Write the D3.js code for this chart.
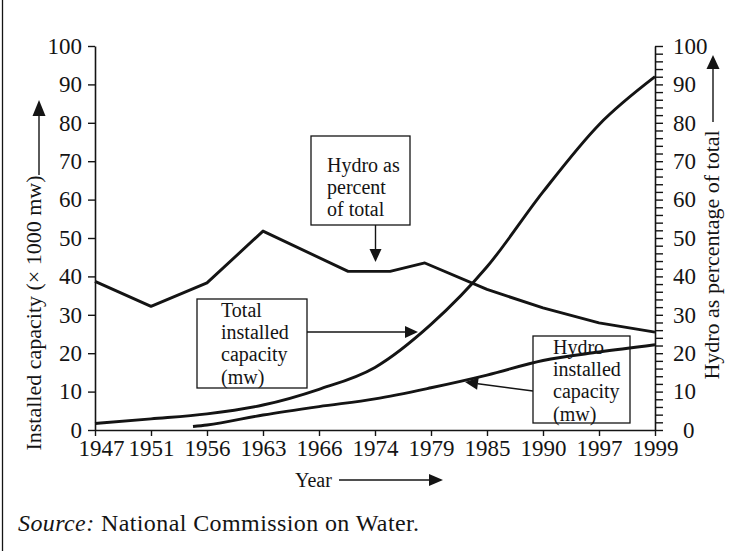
<!DOCTYPE html>
<html>
<head>
<meta charset="utf-8">
<script src="https://cdn.jsdelivr.net/npm/d3@7"></script>
<style>
  html, body { margin: 0; padding: 0; background: #fff; }
  svg text { font-family: "Liberation Serif", "DejaVu Serif", serif; fill: #141414; }
</style>
</head>
<body>
<svg id="chart" width="737" height="551"></svg>
<script>
// Year categories on the horizontal axis (evenly spaced)
const years = ["1947", "1951", "1956", "1963", "1966", "1974", "1979", "1985", "1990", "1997", "1999"];

// Total installed capacity (x 1000 MW), one value per year category
const totalCapacity = [1.7, 2.9, 4.2, 6.5, 10.6, 16.3, 27.5, 42.5, 62, 79.5, 92];

// Hydro installed capacity (x 1000 MW); the series begins part-way between 1951 and 1956
const hydroCapacityAt = [1.75, 2, 3, 4, 5, 6, 7, 8, 9, 10];
const hydroCapacity = [0.9, 1.3, 3.9, 6.1, 8.1, 11.0, 14.3, 18.1, 20.3, 22.2];

// Hydro as percentage of total; vertices sit between year categories in places
const hydroShareAt = [0, 1, 2, 3, 4.52, 5.27, 5.89, 7, 8, 9, 10];
const hydroShare = [38.7, 32.2, 38.3, 51.8, 41.3, 41.3, 43.5, 36.6, 31.8, 27.9, 25.5];

// Tick values for both vertical axes
const leftTicks = d3.range(0, 101, 10);
const rightTicks = d3.range(0, 101, 2);

const svg = d3.select("#chart");
const ink = "#141414";

const x = d3.scaleLinear().domain([0, years.length - 1]).range([95, 655]);
const y = d3.scaleLinear().domain([0, 100]).range([430, 46]);

// Outer frame edge on the left
svg.append("line").attr("x1", 2.5).attr("x2", 2.5).attr("y1", 0).attr("y2", 551)
  .attr("stroke", ink).attr("stroke-width", 1.3);

// Axes
const axisStyle = g => {
  g.selectAll("path.domain").attr("stroke", ink).attr("stroke-width", 1.6);
  g.selectAll(".tick line").attr("stroke", ink).attr("stroke-width", 1.4);
  g.selectAll("text").attr("font-family", "Liberation Serif").attr("font-size", 23).attr("fill", ink);
};

const gLeft = svg.append("g").attr("transform", `translate(${x(0)},0)`)
  .call(d3.axisLeft(y).tickValues(leftTicks).tickSize(7).tickSizeOuter(0).tickPadding(6).tickFormat(d3.format("d")))
  .call(axisStyle);

const gRight = svg.append("g").attr("transform", `translate(${x(years.length - 1)},0)`)
  .call(d3.axisRight(y).tickValues(rightTicks).tickSize(8).tickSizeOuter(0).tickPadding(10)
    .tickFormat(d => d % 10 === 0 ? String(d) : ""))
  .call(axisStyle);
gRight.selectAll(".tick text").filter(d => d === 0).attr("dx", 10);

const gBottom = svg.append("g").attr("transform", `translate(0,${y(0)})`)
  .call(d3.axisBottom(x).tickValues(d3.range(years.length)).tickSize(6).tickSizeOuter(0)
    .tickFormat(i => years[i]))
  .call(axisStyle);
gBottom.selectAll(".tick text").attr("y", 26).attr("dy", 0);
gBottom.selectAll(".tick text").filter(d => d === 0).attr("dx", 6);

// Series lines
const curveStroke = 2.9;
const smoothLine = d3.line().x(d => x(d[0])).y(d => y(d[1])).curve(d3.curveMonotoneX);
const straightLine = d3.line().x(d => x(d[0])).y(d => y(d[1]));

svg.append("path")
  .datum(totalCapacity.map((v, i) => [i, v]))
  .attr("d", smoothLine).attr("fill", "none").attr("stroke", ink)
  .attr("stroke-width", curveStroke).attr("stroke-linejoin", "round");

svg.append("path")
  .datum(hydroCapacity.map((v, i) => [hydroCapacityAt[i], v]))
  .attr("d", smoothLine).attr("fill", "none").attr("stroke", ink)
  .attr("stroke-width", curveStroke).attr("stroke-linejoin", "round");

svg.append("path")
  .datum(hydroShare.map((v, i) => [hydroShareAt[i], v]))
  .attr("d", straightLine).attr("fill", "none").attr("stroke", ink)
  .attr("stroke-width", curveStroke).attr("stroke-linejoin", "round");

// Arrow helper: shaft plus filled head at (x2, y2)
function arrow(x1, y1, x2, y2, headLen, headHalf, width) {
  const a = Math.atan2(y2 - y1, x2 - x1);
  const bx = x2 - headLen * Math.cos(a), by = y2 - headLen * Math.sin(a);
  svg.append("line").attr("x1", x1).attr("y1", y1).attr("x2", bx).attr("y2", by)
    .attr("stroke", ink).attr("stroke-width", width);
  const px = -Math.sin(a) * headHalf, py = Math.cos(a) * headHalf;
  svg.append("path")
    .attr("d", `M${x2},${y2}L${bx + px},${by + py}L${bx - px},${by - py}Z`)
    .attr("fill", ink);
}

// Annotation boxes with their pointers
function labelBox(bx, by, bw, bh, tx, firstBase, lines) {
  svg.append("rect").attr("x", bx).attr("y", by).attr("width", bw).attr("height", bh)
    .attr("fill", "none").attr("stroke", ink).attr("stroke-width", 1.3);
  const t = svg.append("text").attr("font-size", 20);
  lines.forEach((s, i) => {
    t.append("tspan").attr("x", tx).attr("y", firstBase + i * 22.2).text(s);
  });
}

labelBox(311, 136, 99, 89, 327, 172, ["Hydro as", "percent", "of total"]);
arrow(375.5, 225, 375.5, 262, 13, 6, 1.4);

labelBox(197, 299, 110, 89, 221, 317, ["Total", "installed", "capacity", "(mw)"]);
arrow(307, 332, 418, 332, 13, 6, 1.4);

labelBox(533, 336, 97, 87, 553, 354, ["Hydro", "installed", "capacity", "(mw)"]);
arrow(533, 391, 465, 382, 13, 6, 1.4);

// Axis titles with their direction arrows
svg.append("text")
  .attr("transform", "translate(41,313) rotate(-90)")
  .attr("text-anchor", "middle").attr("font-size", 22)
  .text("Installed capacity (× 1000 mw)");
arrow(39, 175, 39, 100, 16, 6.5, 1.4);

svg.append("text")
  .attr("transform", "translate(719,255) rotate(-90)")
  .attr("text-anchor", "middle").attr("font-size", 22)
  .text("Hydro as percentage of total");
arrow(713, 122, 713, 55, 14, 6.5, 1.4);

svg.append("text").attr("x", 295).attr("y", 487).attr("font-size", 20).text("Year");
arrow(339, 480, 443, 480, 14, 6, 1.4);

// Source note
const src = svg.append("text").attr("x", 18).attr("y", 531).attr("font-size", 24).attr("letter-spacing", 0.4);
src.append("tspan").attr("font-style", "italic").text("Source:");
src.append("tspan").text(" National Commission on Water.");
</script>
</body>
</html>
